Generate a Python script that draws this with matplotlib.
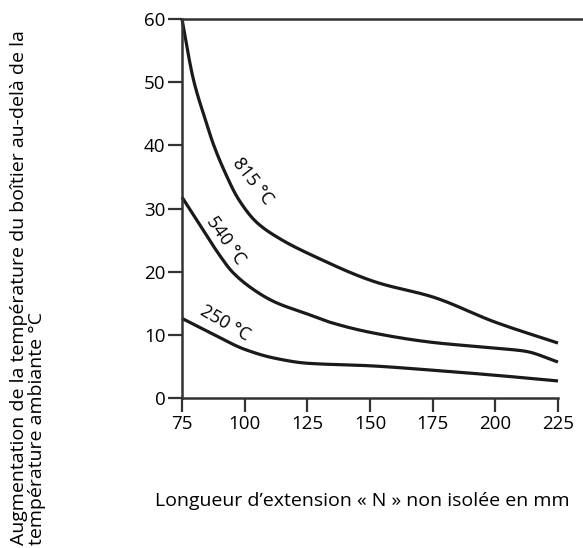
import numpy as np
import matplotlib.pyplot as plt

plt.rcParams['font.family'] = ['Open Sans', 'DejaVu Sans']

# curve data (x in mm, y in °C)
x_815 = [75, 79.5, 84.2, 87.5, 91.5, 97.5, 104.8, 114.1, 127.4, 152.7, 175, 200, 225]
y_815 = [60, 50.5, 44.2, 40.2, 36.3, 31.5, 27.8, 25.2, 22.5, 18.3, 16, 12, 8.7]

x_540 = [75, 82, 90, 95, 103.4, 112, 125, 134, 150, 175, 200, 212, 225]
y_540 = [31.8, 27.5, 22.6, 20.0, 17.2, 15.2, 13.3, 12, 10.4, 8.8, 7.9, 7.4, 5.7]

x_250 = [75, 87, 100, 112, 125, 150, 175, 200, 225]
y_250 = [12.6, 10.2, 7.7, 6.3, 5.5, 5.1, 4.4, 3.6, 2.7]

xticks = [75, 100, 125, 150, 175, 200, 225]
yticks = [0, 10, 20, 30, 40, 50, 60]


def smooth(xs, ys, n=300):
    # monotone cubic interpolation so the curves come out smooth
    xs = np.asarray(xs, float)
    ys = np.asarray(ys, float)
    h = np.diff(xs)
    d = np.diff(ys) / h
    m = np.zeros_like(ys)
    m[0], m[-1] = d[0], d[-1]
    for i in range(1, len(xs) - 1):
        if d[i - 1] * d[i] <= 0:
            m[i] = 0
        else:
            w1 = 2 * h[i] + h[i - 1]
            w2 = h[i] + 2 * h[i - 1]
            m[i] = (w1 + w2) / (w1 / d[i - 1] + w2 / d[i])
    xx = np.linspace(xs[0], xs[-1], n)
    idx = np.clip(np.searchsorted(xs, xx) - 1, 0, len(xs) - 2)
    t = (xx - xs[idx]) / h[idx]
    h00 = 2 * t**3 - 3 * t**2 + 1
    h10 = t**3 - 2 * t**2 + t
    h01 = -2 * t**3 + 3 * t**2
    h11 = t**3 - t**2
    yy = (h00 * ys[idx] + h10 * h[idx] * m[idx]
          + h01 * ys[idx + 1] + h11 * h[idx] * m[idx + 1])
    return xx, yy


fig = plt.figure(figsize=(5.83, 5.48), dpi=100)
ax = fig.add_axes([182 / 583, 1 - 398 / 548, 376 / 583, 379 / 548])

for xs, ys in [(x_815, y_815), (x_540, y_540), (x_250, y_250)]:
    xx, yy = smooth(xs, ys)
    ax.plot(xx, yy, color='#1a1a1a', lw=2.3, solid_capstyle='butt', clip_on=False)

ax.text(103, 34.3, '815 °C', rotation=-52, ha='center', va='center', fontsize=13)
ax.text(92.5, 25.0, '540 °C', rotation=-55, ha='center', va='center', fontsize=13)
ax.text(92, 11.8, '250 °C', rotation=-30, ha='center', va='center', fontsize=13)

ax.set_xlim(75, 225)
ax.set_ylim(0, 60)
ax.set_xticks(xticks)
ax.set_yticks(yticks)
ax.tick_params(direction='out', length=10, width=1.6, color='#333333',
               labelsize=13.5, pad=2)

for s in ['top', 'right']:
    ax.spines[s].set_visible(False)
for s in ['left', 'bottom']:
    ax.spines[s].set_color('#333333')
    ax.spines[s].set_linewidth(1.8)

# top line at 60 running to the right edge of the figure
ax.plot([0, 401 / 376], [1, 1], transform=ax.transAxes, color='#333333',
        lw=1.8, clip_on=False)

fig.text(362 / 583, 1 - 501 / 548,
         'Longueur d\u2019extension « N » non isolée en mm',
         ha='center', va='center', fontsize=14)
fig.text(10 / 583, 1 - 545 / 548,
         'Augmentation de la température du boîtier au-delà de la\n'
         'température ambiante °C',
         rotation=90, ha='left', va='bottom', multialignment='left',
         fontsize=14, linespacing=1.0)

fig.savefig('out.png', dpi=100)
